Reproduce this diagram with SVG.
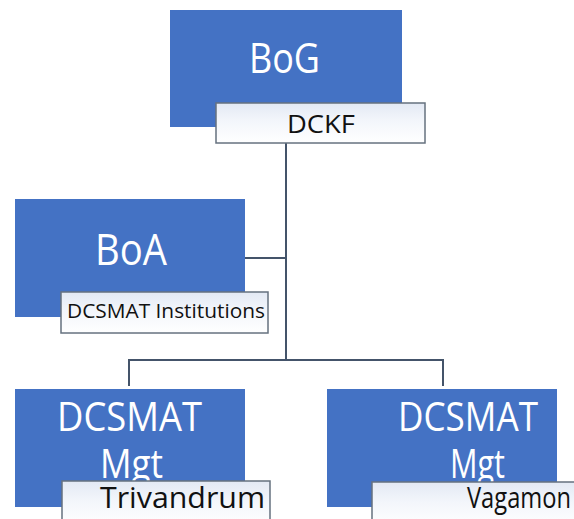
<svg xmlns="http://www.w3.org/2000/svg" width="574" height="519" viewBox="0 0 574 519">
<defs>
<linearGradient id="lbl" x1="0" y1="0" x2="0" y2="1">
<stop offset="0" stop-color="#e3e9f4"/>
<stop offset="0.45" stop-color="#f3f6fb"/>
<stop offset="1" stop-color="#ffffff"/>
</linearGradient>
<style>
.box{fill:#4472c4}
.lbl{fill:url(#lbl);stroke:#66727f;stroke-width:1.5}
.big{font-family:"Open Sans","Liberation Sans",sans-serif;fill:#ffffff}
.sm{font-family:"Open Sans","Liberation Sans",sans-serif;fill:#111111}
.con{fill:none;stroke:#44546a;stroke-width:2}
</style>
</defs>
<rect width="574" height="519" fill="#ffffff"/>
<g id="connectors">
<path class="con" d="M286 143 V360"/>
<path class="con" d="M245 258 H286"/>
<path class="con" d="M129 386 V360 H443 V386"/>
</g>
<g id="bog">
<rect class="box" x="170" y="10" width="232" height="117"/>
<text class="big" x="249" y="73" font-size="42" textLength="71" lengthAdjust="spacingAndGlyphs">BoG</text>
<rect class="lbl" x="216" y="103" width="209" height="40"/>
<text class="sm" x="287" y="133" font-size="25" textLength="68" lengthAdjust="spacingAndGlyphs">DCKF</text>
</g>
<g id="boa">
<rect class="box" x="15" y="199" width="230" height="118"/>
<text class="big" x="95" y="265" font-size="43" textLength="72" lengthAdjust="spacingAndGlyphs">BoA</text>
<rect class="lbl" x="61" y="292" width="207" height="41"/>
<text class="sm" x="67" y="318" font-size="20" textLength="198" lengthAdjust="spacingAndGlyphs">DCSMAT Institutions</text>
</g>
<g id="mgt-trivandrum">
<rect class="box" x="15" y="389" width="230" height="118"/>
<text class="big" x="57" y="431" font-size="40" textLength="145" lengthAdjust="spacingAndGlyphs">DCSMAT</text>
<text class="big" x="100" y="478" font-size="40" textLength="63" lengthAdjust="spacingAndGlyphs">Mgt</text>
<rect class="lbl" x="62" y="481" width="208" height="45"/>
<text class="sm" x="100" y="508" font-size="29" textLength="165" lengthAdjust="spacingAndGlyphs">Trivandrum</text>
</g>
<g id="mgt-vagamon">
<rect class="box" x="327" y="389" width="230" height="118"/>
<text class="big" x="398" y="431" font-size="40" textLength="140" lengthAdjust="spacingAndGlyphs">DCSMAT</text>
<text class="big" x="450" y="478" font-size="40" textLength="55" lengthAdjust="spacingAndGlyphs">Mgt</text>
<rect class="lbl" x="372" y="482" width="215" height="45"/>
<text class="sm" x="467" y="508" font-size="29" textLength="104" lengthAdjust="spacingAndGlyphs">Vagamon</text>
</g>
</svg>
